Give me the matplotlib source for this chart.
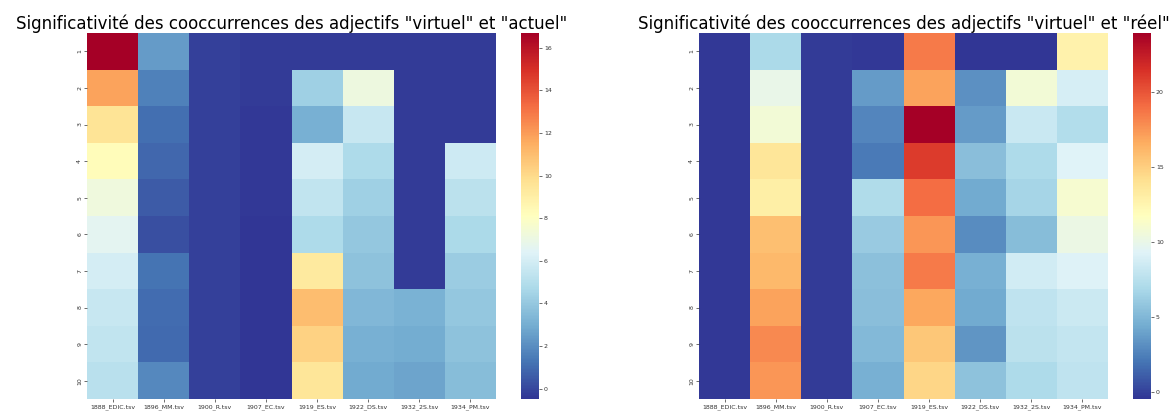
import numpy as np
import matplotlib
matplotlib.use("Agg")
import matplotlib.pyplot as plt
import seaborn as sns

files = ["1888_EDIC.tsv", "1896_MM.tsv", "1900_R.tsv", "1907_EC.tsv",
         "1919_ES.tsv", "1922_DS.tsv", "1932_2S.tsv", "1934_PM.tsv"]
ranks = [1, 2, 3, 4, 5, 6, 7, 8, 9, 10]

# one list per corpus, rows 1..10
actuel = {
    "1888_EDIC.tsv": [16.7, 11.8, 9.6, 8.3, 7.2, 6.6, 6.0, 5.6, 5.4, 5.1],
    "1896_MM.tsv":   [2.4, 1.6, 1.1, 0.9, 0.55, 0.2, 1.2, 1.0, 0.95, 1.8],
    "1900_R.tsv":    [-0.2, -0.2, -0.2, -0.2, -0.2, -0.2, -0.2, -0.2, -0.2, -0.2],
    "1907_EC.tsv":   [-0.3, -0.35, -0.38, -0.4, -0.42, -0.44, -0.45, -0.47, -0.48, -0.49],
    "1919_ES.tsv":   [-0.3, 4.3, 3.1, 6.0, 5.4, 4.8, 9.3, 11.0, 10.3, 9.5],
    "1922_DS.tsv":   [-0.3, 7.1, 5.6, 4.8, 4.3, 4.0, 3.8, 3.4, 3.1, 2.9],
    "1932_2S.tsv":   [-0.35, -0.35, -0.35, -0.35, -0.35, -0.35, -0.35, 3.2, 3.0, 2.7],
    "1934_PM.tsv":   [-0.35, -0.35, -0.35, 5.8, 5.2, 4.7, 4.2, 4.0, 3.8, 3.6],
}
reel = {
    "1888_EDIC.tsv": [-0.25, -0.25, -0.25, -0.25, -0.25, -0.25, -0.25, -0.25, -0.25, -0.25],
    "1896_MM.tsv":   [6.9, 10.0, 10.7, 13.7, 13.0, 15.8, 16.1, 17.0, 18.0, 17.5],
    "1900_R.tsv":    [-0.2, -0.2, -0.2, -0.2, -0.2, -0.2, -0.2, -0.2, -0.2, -0.2],
    "1907_EC.tsv":   [-0.3, 3.7, 2.7, 2.3, 7.1, 6.1, 5.5, 5.4, 5.1, 4.6],
    "1919_ES.tsv":   [18.5, 17.0, 23.9, 21.0, 19.0, 17.5, 18.5, 16.8, 15.4, 14.6],
    "1922_DS.tsv":   [-0.44, 3.2, 3.7, 5.4, 4.4, 3.0, 4.6, 4.4, 3.4, 5.6],
    "1932_2S.tsv":   [-0.35, 10.7, 8.3, 7.0, 6.6, 5.3, 8.6, 7.8, 7.6, 7.0],
    "1934_PM.tsv":   [12.7, 8.8, 7.2, 9.3, 11.0, 10.2, 9.2, 8.4, 8.0, 7.8],
}

W, H = 1175, 412
fig = plt.figure(figsize=(W / 100, H / 100), dpi=100)

def box(x0, x1, y0=33, y1=399):
    return [x0 / W, (H - y1) / H, (x1 - x0) / W, (y1 - y0) / H]

panels = [
    (actuel, "actuel", 87, 496, 521, 539, [0, 2, 4, 6, 8, 10, 12, 14, 16]),
    (reel, "réel", 699, 1108, 1133, 1151, [0, 5, 10, 15, 20]),
]

for data, word, x0, x1, c0, c1, cticks in panels:
    mat = np.array([data[f] for f in files]).T
    ax = fig.add_axes(box(x0, x1))
    cax = fig.add_axes(box(c0, c1))
    sns.heatmap(mat, ax=ax, cbar_ax=cax, cmap="RdYlBu_r",
                xticklabels=files, yticklabels=ranks,
                cbar_kws={"ticks": cticks})
    ax.set_title('Significativité des cooccurrences des adjectifs "virtuel" et "{}"'.format(word),
                 fontsize=12, pad=1.5)
    ax.tick_params(axis="both", labelsize=4.5, length=2, width=0.5, pad=1.5, colors="#333333")
    ax.tick_params(axis="y", labelrotation=90)
    ax.tick_params(axis="x", labelrotation=0)
    cax.tick_params(labelsize=4.5, length=2, width=0.5, pad=1.5, colors="#333333")
    cax.set_frame_on(False)

fig.savefig("out.png", dpi=100)
